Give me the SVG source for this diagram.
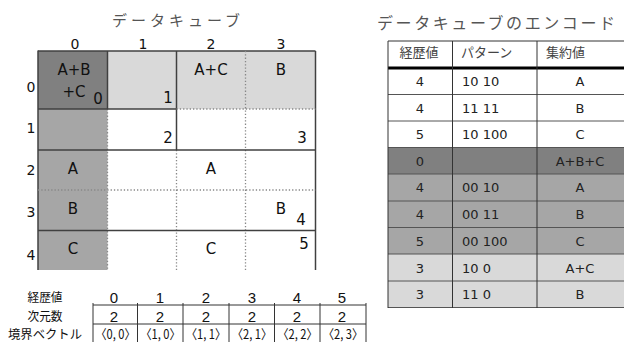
<svg xmlns="http://www.w3.org/2000/svg" width="624" height="342" viewBox="0 0 624 342">
<style>
.t{font-family:"DejaVu Sans",Verdana,sans-serif;font-size:15px;fill:#111}
.h{font-family:"DejaVu Sans",Verdana,sans-serif;font-size:14px;fill:#111;text-anchor:middle}
.m{text-anchor:middle}
.jp{font-family:"Noto Sans CJK JP",sans-serif;fill:#555}
.lbl{font-family:"Noto Sans CJK JP",sans-serif;font-size:12.5px;fill:#111;text-anchor:middle}
.n{font-family:"Liberation Sans",Arial,sans-serif;font-size:15px;fill:#111;text-anchor:middle}
.v{font-family:"Noto Sans CJK JP",sans-serif;font-size:13px;fill:#111;text-anchor:middle}
.sol{stroke:#404040;stroke-width:1.5;fill:none}
.dot{stroke:#888;stroke-width:1.3;stroke-dasharray:1.3 2;fill:none}
.tl{stroke:#333;stroke-width:1;fill:none}
.rl{stroke:#555;stroke-width:1;fill:none}
.tt{font-family:"DejaVu Sans",Verdana,sans-serif;font-size:13px;fill:#222}
.th{font-family:"Noto Sans CJK JP",sans-serif;font-size:13px;fill:#444}
</style>

<g id="cube-title"><text class="jp" x="112" y="26" font-size="15" textLength="128" lengthAdjust="spacing">データキューブ</text></g>

<g id="cube-cells">
<rect x="38" y="51" width="69.5" height="58" fill="#808080"/>
<rect x="107.5" y="51" width="208" height="58" fill="#d9d9d9"/>
<rect x="38" y="109" width="69.5" height="161" fill="#a6a6a6"/>
</g>

<g id="cube-axes">
<text class="h" x="75" y="49">0</text>
<text class="h" x="143" y="49">1</text>
<text class="h" x="211" y="49">2</text>
<text class="h" x="281" y="49">3</text>
<text class="h" x="31" y="92">0</text>
<text class="h" x="31" y="133">1</text>
<text class="h" x="31" y="175">2</text>
<text class="h" x="31" y="217">3</text>
<text class="h" x="31" y="260">4</text>
</g>

<g id="connectors">
<line class="sol" x1="38" y1="51" x2="315.5" y2="51"/>
<line class="sol" x1="38" y1="50.5" x2="38" y2="270" stroke-width="2"/>
<line class="sol" x1="315.5" y1="51" x2="315.5" y2="270"/>
<line class="sol" x1="107.5" y1="51" x2="107.5" y2="109"/>
<line class="sol" x1="176.5" y1="51" x2="176.5" y2="150"/>
<line class="dot" x1="245.5" y1="51" x2="245.5" y2="270"/>
<line class="dot" x1="107.5" y1="109" x2="107.5" y2="270"/>
<line class="dot" x1="176.5" y1="150" x2="176.5" y2="270"/>
<line class="sol" x1="38" y1="109" x2="176.5" y2="109"/>
<line class="dot" x1="176.5" y1="109" x2="315.5" y2="109"/>
<line class="sol" x1="38" y1="150" x2="315.5" y2="150"/>
<line class="dot" x1="38" y1="190" x2="315.5" y2="190"/>
<line class="sol" x1="38" y1="230.5" x2="315.5" y2="230.5"/>
</g>

<g id="cube-values">
<text class="t m" x="74" y="75">A+B</text>
<text class="t m" x="74" y="97">+C</text>
<text class="t m" x="98" y="104">0</text>
<text class="t m" x="168" y="103">1</text>
<text class="t m" x="211" y="75">A+C</text>
<text class="t m" x="281" y="75">B</text>
<text class="t m" x="168" y="143">2</text>
<text class="t m" x="302" y="143">3</text>
<text class="t m" x="73" y="174">A</text>
<text class="t m" x="211" y="174">A</text>
<text class="t m" x="73" y="214">B</text>
<text class="t m" x="281" y="214">B</text>
<text class="t m" x="301" y="225">4</text>
<text class="t m" x="304" y="249">5</text>
<text class="t m" x="73" y="254">C</text>
<text class="t m" x="211" y="254">C</text>
</g>

<g id="bottom-table">
<text class="lbl" x="45" y="302" textLength="35" lengthAdjust="spacingAndGlyphs">経歴値</text>
<text class="lbl" x="45" y="321" textLength="35" lengthAdjust="spacingAndGlyphs">次元数</text>
<text class="lbl" x="45" y="339" textLength="74" lengthAdjust="spacingAndGlyphs">境界ベクトル</text>
<line class="tl" x1="93" y1="305" x2="366" y2="305"/>
<line class="tl" x1="93" y1="324" x2="366" y2="324"/>
<line class="tl" x1="93" y1="303" x2="93" y2="342"/>
<line class="tl" x1="137.5" y1="303" x2="137.5" y2="342"/>
<line class="tl" x1="183" y1="303" x2="183" y2="342"/>
<line class="tl" x1="229" y1="303" x2="229" y2="342"/>
<line class="tl" x1="274.5" y1="303" x2="274.5" y2="342"/>
<line class="tl" x1="320" y1="303" x2="320" y2="342"/>
<line class="tl" x1="366" y1="303" x2="366" y2="342"/>
<text class="n" x="114" y="303">0</text>
<text class="n" x="160" y="303">1</text>
<text class="n" x="206" y="303">2</text>
<text class="n" x="252" y="303">3</text>
<text class="n" x="297" y="303">4</text>
<text class="n" x="342" y="303">5</text>
<text class="n" x="114" y="322">2</text>
<text class="n" x="160" y="322">2</text>
<text class="n" x="206" y="322">2</text>
<text class="n" x="252" y="322">2</text>
<text class="n" x="297" y="322">2</text>
<text class="n" x="342" y="322">2</text>
<text class="v" x="115.5" y="339" textLength="40" lengthAdjust="spacingAndGlyphs">〈0, 0〉</text>
<text class="v" x="160.5" y="339" textLength="40" lengthAdjust="spacingAndGlyphs">〈1, 0〉</text>
<text class="v" x="206" y="339" textLength="40" lengthAdjust="spacingAndGlyphs">〈1, 1〉</text>
<text class="v" x="252" y="339" textLength="40" lengthAdjust="spacingAndGlyphs">〈2, 1〉</text>
<text class="v" x="297.5" y="339" textLength="40" lengthAdjust="spacingAndGlyphs">〈2, 2〉</text>
<text class="v" x="343" y="339" textLength="40" lengthAdjust="spacingAndGlyphs">〈2, 3〉</text>
</g>

<g id="enc-title"><text class="jp" x="377" y="29" font-size="16" textLength="238" lengthAdjust="spacing">データキューブのエンコード</text></g>

<g id="enc-table">
<rect x="388" y="147.5" width="240" height="26.5" fill="#808080"/>
<rect x="388" y="174" width="240" height="80" fill="#a6a6a6"/>
<rect x="388" y="254" width="240" height="53.5" fill="#d9d9d9"/>
<line class="tl" x1="388" y1="41" x2="628" y2="41"/>
<line x1="388" y1="68" x2="628" y2="68" stroke="#000" stroke-width="3"/>
<line class="rl" x1="388" y1="94.5" x2="628" y2="94.5"/>
<line class="rl" x1="388" y1="121" x2="628" y2="121"/>
<line class="rl" x1="388" y1="147.5" x2="628" y2="147.5"/>
<line class="rl" x1="388" y1="174" x2="628" y2="174"/>
<line class="rl" x1="388" y1="201" x2="628" y2="201"/>
<line class="rl" x1="388" y1="227.5" x2="628" y2="227.5"/>
<line class="rl" x1="388" y1="254" x2="628" y2="254"/>
<line class="rl" x1="388" y1="281" x2="628" y2="281"/>
<line class="rl" x1="388" y1="307.5" x2="628" y2="307.5"/>
<line class="tl" x1="388" y1="41" x2="388" y2="308"/>
<line class="tl" x1="452.5" y1="41" x2="452.5" y2="308"/>
<line class="tl" x1="537" y1="41" x2="537" y2="308"/>
<text class="th" x="419" y="57" text-anchor="middle">経歴値</text>
<text class="th" x="461" y="57">パターン</text>
<text class="th" x="546" y="57">集約値</text>
<text class="tt" x="420" y="86" text-anchor="middle">4</text>
<text class="tt" x="462" y="86">10 10</text>
<text class="tt" x="580" y="86" text-anchor="middle">A</text>
<text class="tt" x="420" y="112.5" text-anchor="middle">4</text>
<text class="tt" x="462" y="112.5">11 11</text>
<text class="tt" x="580" y="112.5" text-anchor="middle">B</text>
<text class="tt" x="420" y="139" text-anchor="middle">5</text>
<text class="tt" x="462" y="139">10 100</text>
<text class="tt" x="580" y="139" text-anchor="middle">C</text>
<text class="tt" x="420" y="165.5" text-anchor="middle">0</text>
<text class="tt" x="580" y="165.5" text-anchor="middle">A+B+C</text>
<text class="tt" x="420" y="192" text-anchor="middle">4</text>
<text class="tt" x="462" y="192">00 10</text>
<text class="tt" x="580" y="192" text-anchor="middle">A</text>
<text class="tt" x="420" y="219" text-anchor="middle">4</text>
<text class="tt" x="462" y="219">00 11</text>
<text class="tt" x="580" y="219" text-anchor="middle">B</text>
<text class="tt" x="420" y="245.5" text-anchor="middle">5</text>
<text class="tt" x="462" y="245.5">00 100</text>
<text class="tt" x="580" y="245.5" text-anchor="middle">C</text>
<text class="tt" x="420" y="272.5" text-anchor="middle">3</text>
<text class="tt" x="462" y="272.5">10 0</text>
<text class="tt" x="580" y="272.5" text-anchor="middle">A+C</text>
<text class="tt" x="420" y="299" text-anchor="middle">3</text>
<text class="tt" x="462" y="299">11 0</text>
<text class="tt" x="580" y="299" text-anchor="middle">B</text>
</g>
</svg>
